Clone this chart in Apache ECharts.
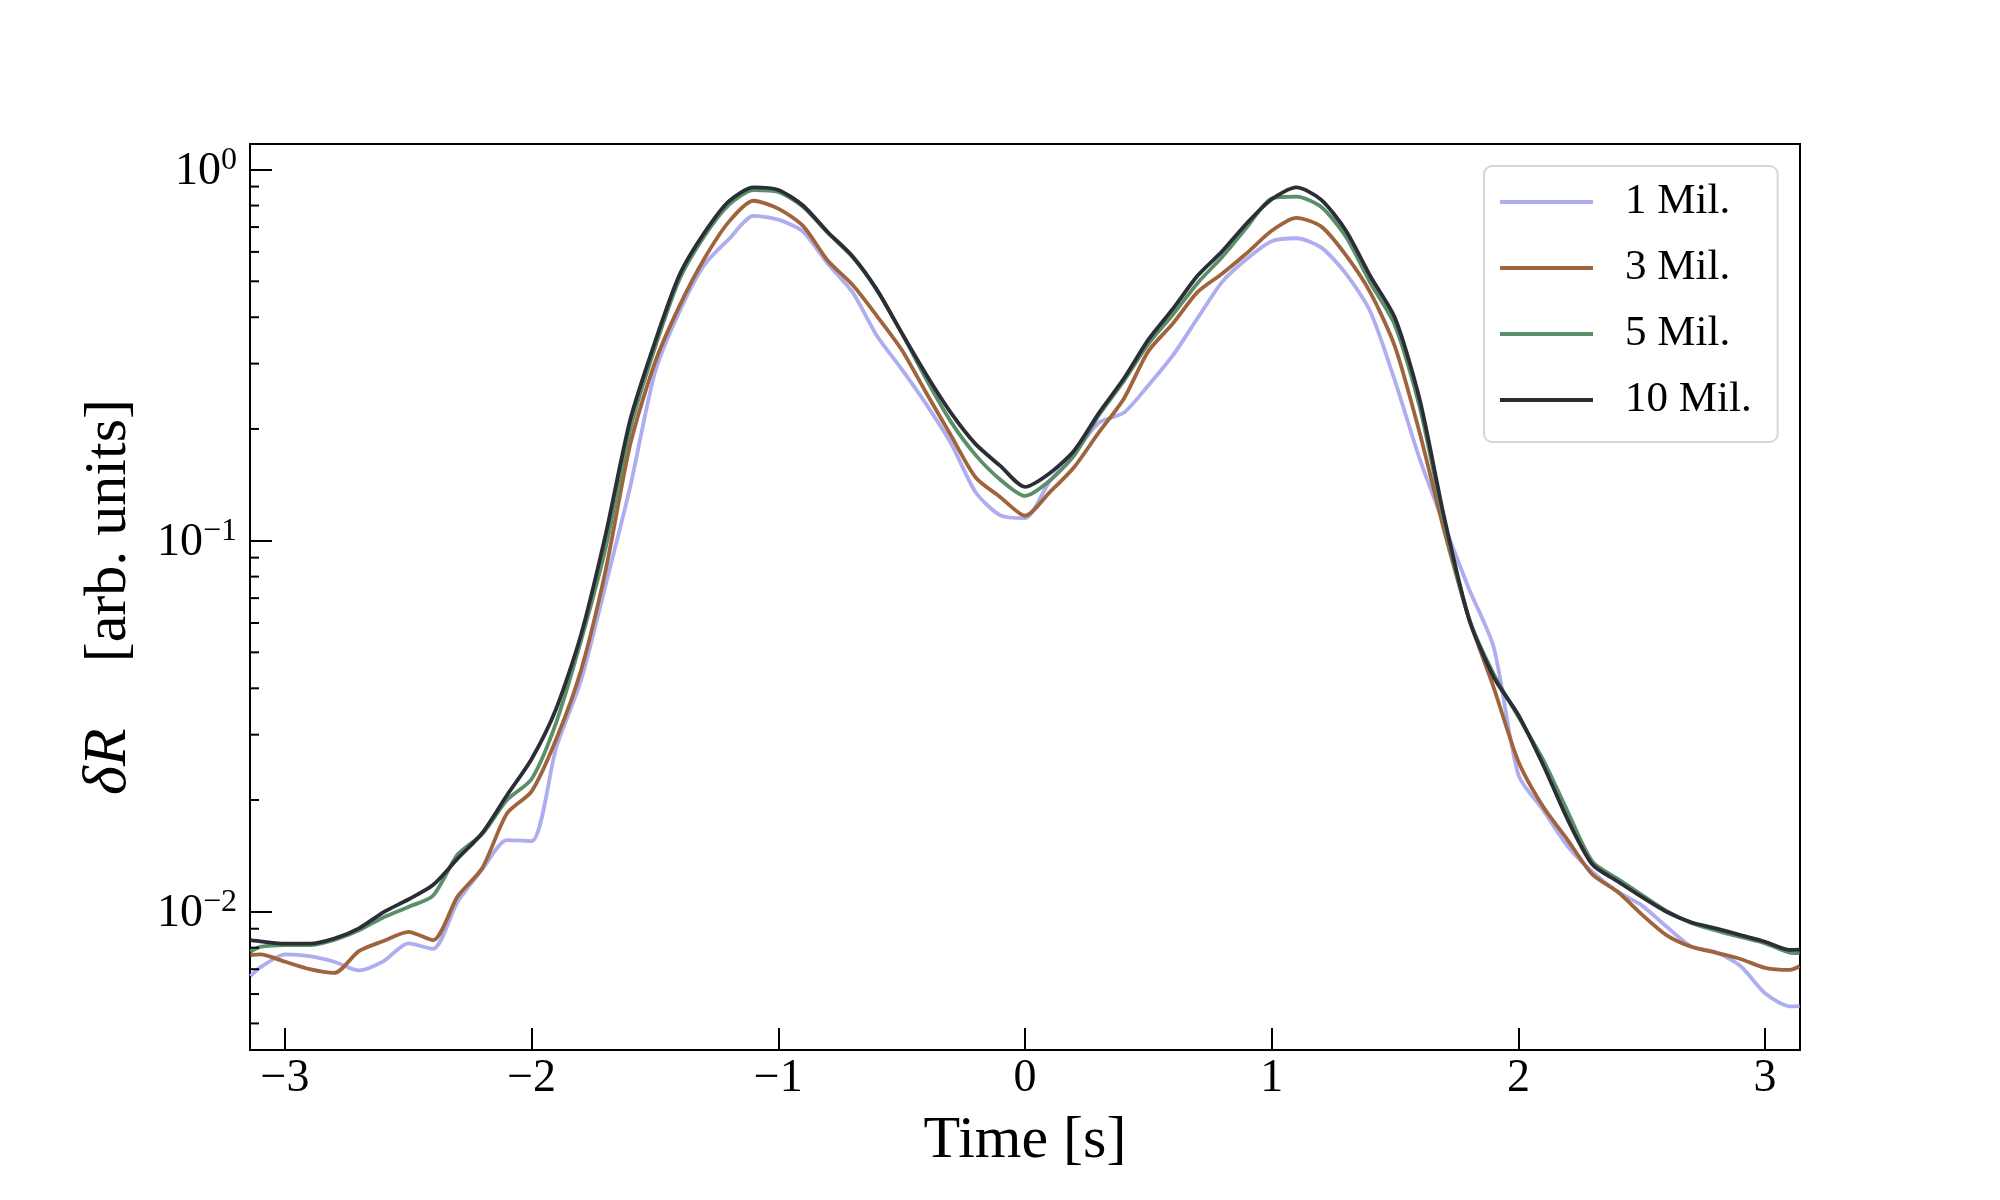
<!DOCTYPE html>
<html><head><meta charset="utf-8">
<script src="https://cdn.jsdelivr.net/npm/echarts@6/dist/echarts.min.js"></script>
<style>html,body{margin:0;padding:0;background:#fff}#c{width:2000px;height:1200px}</style>
</head><body><div id="c"></div>
<script>
const time = [-3.14, -3.1, -3.0, -2.9, -2.8, -2.7, -2.6, -2.5, -2.4, -2.3, -2.2, -2.1, -2.0, -1.9, -1.8, -1.7, -1.6, -1.5, -1.4, -1.3, -1.2, -1.1, -1.0, -0.9, -0.8, -0.7, -0.6, -0.5, -0.4, -0.3, -0.2, -0.1, 0.0, 0.1, 0.2, 0.3, 0.4, 0.5, 0.6, 0.7, 0.8, 0.9, 1.0, 1.1, 1.2, 1.3, 1.4, 1.5, 1.6, 1.7, 1.8, 1.9, 2.0, 2.1, 2.2, 2.3, 2.4, 2.5, 2.6, 2.7, 2.8, 2.9, 3.0, 3.1, 3.14];

const mil1 = [0.00671, 0.00708, 0.00767, 0.00759, 0.00733, 0.00695, 0.00736, 0.00822, 0.00794, 0.01064, 0.0130, 0.0156, 0.0155, 0.0277, 0.0420, 0.0759, 0.140, 0.284, 0.415, 0.553, 0.650, 0.750, 0.733, 0.681, 0.558, 0.468, 0.356, 0.290, 0.233, 0.183, 0.135, 0.117, 0.115, 0.1445, 0.172, 0.208, 0.221, 0.262, 0.316, 0.398, 0.499, 0.575, 0.641, 0.653, 0.617, 0.525, 0.414, 0.269, 0.166, 0.110, 0.0741, 0.0516, 0.0234, 0.0188, 0.0150, 0.0128, 0.01135, 0.0104, 0.00912, 0.00807, 0.00778, 0.00714, 0.00603, 0.00556, 0.00557];

const mil3 = [0.00764, 0.00767, 0.00733, 0.00700, 0.00684, 0.00783, 0.00834, 0.00883, 0.00838, 0.0110, 0.01312, 0.0184, 0.0211, 0.0292, 0.0447, 0.0832, 0.182, 0.302, 0.430, 0.575, 0.724, 0.824, 0.785, 0.705, 0.569, 0.490, 0.403, 0.327, 0.250, 0.192, 0.148, 0.131, 0.1167, 0.135, 0.158, 0.196, 0.241, 0.324, 0.385, 0.468, 0.525, 0.596, 0.684, 0.741, 0.703, 0.589, 0.466, 0.333, 0.195, 0.106, 0.0617, 0.0402, 0.0254, 0.0192, 0.0156, 0.0126, 0.01135, 0.00984, 0.00865, 0.00805, 0.00776, 0.00746, 0.00706, 0.00697, 0.00713];

const mil5 = [0.00780, 0.00804, 0.00813, 0.00813, 0.00840, 0.00891, 0.00966, 0.0103, 0.01104, 0.01426, 0.0162, 0.0200, 0.0228, 0.0324, 0.0537, 0.0955, 0.200, 0.331, 0.507, 0.661, 0.804, 0.881, 0.871, 0.794, 0.676, 0.582, 0.473, 0.363, 0.272, 0.209, 0.170, 0.146, 0.132, 0.145, 0.170, 0.218, 0.269, 0.339, 0.407, 0.495, 0.582, 0.700, 0.836, 0.845, 0.794, 0.661, 0.495, 0.380, 0.229, 0.112, 0.0617, 0.0437, 0.0335, 0.0257, 0.0186, 0.01365, 0.0123, 0.0111, 0.01005, 0.00933, 0.00891, 0.00855, 0.00822, 0.00776, 0.00773];

const mil10 = [0.00838, 0.00832, 0.00820, 0.00820, 0.00847, 0.00902, 0.00998, 0.01079, 0.0118, 0.0139, 0.0163, 0.0206, 0.0258, 0.0353, 0.0557, 0.1038, 0.212, 0.343, 0.521, 0.675, 0.822, 0.895, 0.881, 0.800, 0.679, 0.585, 0.474, 0.363, 0.280, 0.221, 0.182, 0.159, 0.1396, 0.152, 0.175, 0.221, 0.273, 0.348, 0.422, 0.518, 0.603, 0.718, 0.832, 0.895, 0.830, 0.686, 0.516, 0.398, 0.240, 0.115, 0.0614, 0.0429, 0.0339, 0.0249, 0.0177, 0.0134, 0.0121, 0.01096, 0.0100, 0.00937, 0.00902, 0.00865, 0.00830, 0.00789, 0.00790];

const seriesNames = ['1 Mil.', '3 Mil.', '5 Mil.', '10 Mil.'];
const seriesValues = [mil1, mil3, mil5, mil10];
const seriesColors = ['#adadf0', '#a0643c', '#5b8f6a', '#2b2e36'];

const xTicks = [-3, -2, -1, 0, 1, 2, 3];
const yMinorTicks = [0.005, 0.006, 0.007, 0.008, 0.009, 0.02, 0.03, 0.04, 0.05, 0.06, 0.07, 0.08, 0.09, 0.2, 0.3, 0.4, 0.5, 0.6, 0.7, 0.8, 0.9];

const X_MIN = -Math.PI, X_MAX = Math.PI;
const Y_MIN = 0.00424, Y_MAX = 1.172;
const FONT = "'Liberation Serif', 'DejaVu Serif', serif";

const chart = echarts.init(document.getElementById('c'), null, {renderer: 'canvas'});

const lineSeries = seriesNames.map((name, k) => ({
  name: name,
  type: 'line',
  data: time.map((t, i) => [t, seriesValues[k][i]]),
  showSymbol: false,
  symbol: 'none',
  smooth: 0.25,
  clip: true,
  color: seriesColors[k],
  lineStyle: {color: seriesColors[k], width: 3.8, join: 'round'},
  emphasis: {disabled: true},
  z: 3 + k
}));

const minorTickSeries = {
  type: 'custom',
  silent: true,
  z: 10,
  clip: false,
  data: yMinorTicks.map(v => [X_MIN, v]),
  renderItem: function (params, api) {
    const p = api.coord([api.value(0), api.value(1)]);
    return {
      type: 'line',
      shape: {x1: p[0], y1: p[1], x2: p[0] + 9, y2: p[1]},
      style: {stroke: '#000', lineWidth: 2}
    };
  }
};

function supLabel(v) {
  const e = Math.log10(v);
  const r = Math.round(e);
  if (Math.abs(e - r) > 1e-6) return '';
  return '{b|10}{s|' + (r < 0 ? '\u2212' + (-r) : String(r)) + '}';
}

const option = {
  backgroundColor: '#ffffff',
  animation: false,
  grid: {left: 250, right: 200, top: 144, bottom: 150, show: true, borderColor: '#000', borderWidth: 2, backgroundColor: 'transparent'},
  legend: {
    data: seriesNames,
    orient: 'vertical',
    left: 1484,
    top: 166,
    icon: 'rect',
    itemWidth: 93,
    itemHeight: 4,
    itemGap: 22,
    padding: [14, 26, 20, 16],
    backgroundColor: 'rgba(255,255,255,0.8)',
    borderColor: '#d6d6d6',
    borderWidth: 2,
    borderRadius: 8,
    selectedMode: false,
    textStyle: {fontFamily: FONT, fontSize: 43, color: '#000', lineHeight: 44, padding: [0, 0, 0, 27]}
  },
  xAxis: {
    type: 'value',
    min: X_MIN,
    max: X_MAX,
    name: 'Time [s]',
    nameLocation: 'middle',
    nameGap: 61,
    nameTextStyle: {fontFamily: FONT, fontSize: 60, color: '#000'},
    axisLine: {show: true, onZero: false, lineStyle: {color: '#000', width: 2}},
    axisTick: {show: true, inside: true, length: 22, lineStyle: {color: '#000', width: 2}, customValues: xTicks},
    axisLabel: {
      show: true, margin: 6, color: '#000', fontFamily: FONT, fontSize: 46,
      customValues: xTicks,
      formatter: v => (v < 0 ? '\u2212' + Math.abs(v) : String(v))
    },
    splitLine: {show: false}
  },
  yAxis: {
    type: 'log',
    logBase: 10,
    min: Y_MIN,
    max: Y_MAX,
    name: '{d|\u03B4R}{g| }{n|[arb. units]}',
    nameLocation: 'middle',
    nameRotate: 90,
    nameGap: 110,
    nameTextStyle: {
      fontFamily: FONT, fontSize: 60, color: '#000',
      rich: {
        d: {fontFamily: FONT, fontSize: 62, fontStyle: 'italic', color: '#000'},
        g: {fontFamily: FONT, fontSize: 60, width: 66},
        n: {fontFamily: FONT, fontSize: 60, color: '#000'}
      }
    },
    axisLine: {show: true, onZero: false, lineStyle: {color: '#000', width: 2}},
    axisTick: {show: true, inside: true, length: 22, lineStyle: {color: '#000', width: 2}},
    minorTick: {show: false},
    axisLabel: {
      show: true, margin: 13, showMinLabel: false, showMaxLabel: false,
      formatter: supLabel,
      rich: {
        b: {fontFamily: FONT, fontSize: 46, color: '#000', verticalAlign: 'bottom', lineHeight: 50},
        s: {fontFamily: FONT, fontSize: 32, color: '#000', verticalAlign: 'top', lineHeight: 32}
      }
    },
    splitLine: {show: false}
  },
  series: lineSeries.concat([minorTickSeries])
};

chart.setOption(option);
</script>
</body></html>
